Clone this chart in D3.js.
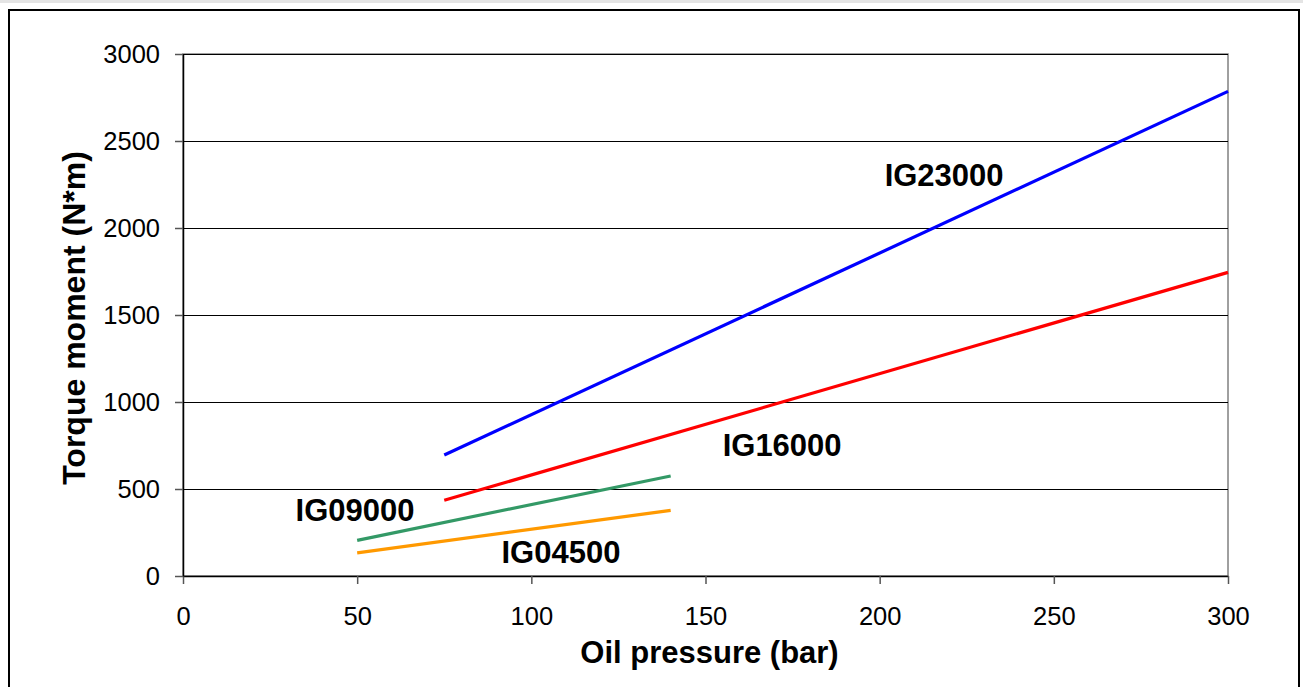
<!DOCTYPE html>
<html>
<head>
<meta charset="utf-8">
<script src="https://cdn.jsdelivr.net/npm/d3@7"></script>
<style>
  body { margin: 0; background: #fff; }
  svg { display: block; font-family: "Liberation Sans", Arial, sans-serif; }
  .axis text { font-size: 25.5px; fill: #000; }
  .axis path { stroke: #000; stroke-width: 1.5; }
  .axis line { stroke: #555; stroke-width: 1.5; }
  .grid line { stroke: #000; stroke-width: 1; }
  .title { font-weight: bold; }
  .series-label { font-size: 31px; font-weight: bold; }
</style>
</head>
<body>
<div class="chart"></div>
<script>
// series: oil pressure (bar) -> torque (N*m)
var seriesNames = ["IG23000", "IG16000", "IG09000", "IG04500"];
var pressure23000 = [75, 300];
var torque23000 = [695, 2785];
var pressure16000 = [75, 300];
var torque16000 = [435, 1745];
var pressure09000 = [50, 140];
var torque09000 = [205, 575];
var pressure04500 = [50, 140];
var torque04500 = [133, 377];

var xTicks = [0, 50, 100, 150, 200, 250, 300];
var yTicks = [0, 500, 1000, 1500, 2000, 2500, 3000];

// where each name sits, in data units [pressure, torque]
var labelSpots = [[218.5, 2239], [172, 688], [49.4, 317], [108.5, 73]];

var colors = ["#0000ff", "#ff0000", "#339966", "#ff9900"];

var series = [
    {name: seriesNames[0], x: pressure23000, y: torque23000},
    {name: seriesNames[1], x: pressure16000, y: torque16000},
    {name: seriesNames[2], x: pressure09000, y: torque09000},
    {name: seriesNames[3], x: pressure04500, y: torque04500}
];

var W = 1303, H = 687;
var margin = {top: 54, right: 75, bottom: 111, left: 183};
var width = W - margin.left - margin.right,
    height = H - margin.top - margin.bottom;

var svg = d3.select(".chart").append("svg")
    .attr("width", W)
    .attr("height", H);

// thin grey strip at the very top, then the outer frame
svg.append("rect")
    .attr("x", 0).attr("y", 0).attr("width", W).attr("height", 3)
    .attr("fill", "#e4e4e4");
svg.append("rect")
    .attr("x", 9).attr("y", 10).attr("width", 1290).attr("height", 700)
    .attr("fill", "none").attr("stroke", "#000").attr("stroke-width", 2);

var g = svg.append("g")
    .attr("transform", "translate(" + margin.left + "," + margin.top + ")");

const xScale = d3.scaleLinear()
    .domain([0, 300])
    .range([0, width]);

const yScale = d3.scaleLinear()
    .domain([0, 3000])
    .range([height, 0]);

// plot area border (grey, as in the original)
g.append("rect")
    .attr("width", width)
    .attr("height", height)
    .attr("fill", "#fff")
    .attr("stroke", "#808080")
    .attr("stroke-width", 1.5);

// horizontal gridlines
g.append("g")
    .attr("class", "grid")
    .selectAll("line")
    .data(yTicks.filter(d => d > 0))
    .join("line")
    .attr("x1", 0)
    .attr("x2", width)
    .attr("y1", d => Math.round(yScale(d)) + 0.5)
    .attr("y2", d => Math.round(yScale(d)) + 0.5);

const xAxis = d3.axisBottom(xScale)
    .tickValues(xTicks)
    .tickFormat(d3.format("d"))
    .tickSizeInner(8)
    .tickSizeOuter(0)
    .tickPadding(23);

const yAxis = d3.axisLeft(yScale)
    .tickValues(yTicks)
    .tickFormat(d3.format("d"))
    .tickSizeInner(8)
    .tickSizeOuter(0)
    .tickPadding(15);

g.append("g")
    .attr("class", "axis x-axis")
    .attr("transform", `translate(0, ${height})`)
    .call(xAxis);

g.append("g")
    .attr("class", "axis y-axis")
    .call(yAxis);

var line = d3.line()
    .x(d => xScale(d[0]))
    .y(d => yScale(d[1]));

g.selectAll(".series")
    .data(series)
    .join("path")
    .attr("class", "series")
    .attr("fill", "none")
    .attr("stroke", (d, i) => colors[i])
    .attr("stroke-width", 3.2)
    .attr("d", d => line(d.x.map((v, i) => [v, d.y[i]])));

g.selectAll(".series-label")
    .data(series)
    .join("text")
    .attr("class", "series-label")
    .attr("text-anchor", "middle")
    .attr("x", (d, i) => xScale(labelSpots[i][0]))
    .attr("y", (d, i) => yScale(labelSpots[i][1]))
    .text(d => d.name);

// axis titles
g.append("text")
    .attr("class", "title")
    .attr("font-size", "31px")
    .attr("text-anchor", "middle")
    .attr("x", width / 2 + 4)
    .attr("y", 663 - margin.top)
    .text("Oil pressure (bar)");

g.append("text")
    .attr("class", "title")
    .attr("font-size", "32px")
    .attr("text-anchor", "middle")
    .attr("transform", `translate(${85 - margin.left}, ${height / 2 + 3}) rotate(-90)`)
    .text("Torque moment (N*m)");
</script>
</body>
</html>
